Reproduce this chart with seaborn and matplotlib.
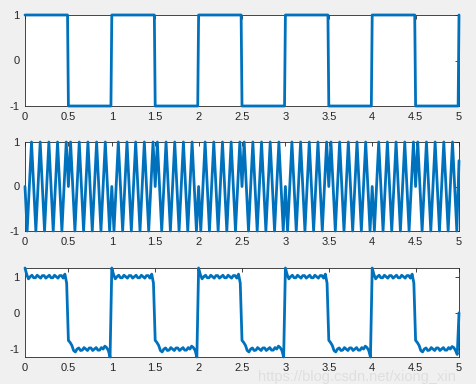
import numpy as np
import seaborn as sns
import matplotlib.pyplot as plt

# square wave (top)
sq_t = [0, 0.49, 0.5, 0.99, 1.0, 1.49, 1.5, 1.99, 2.0, 2.49, 2.5,
        2.99, 3.0, 3.49, 3.5, 3.99, 4.0, 4.49, 4.5, 4.99, 5.0]
sq_v = [1, 1, -1, -1, 1, 1, -1, -1, 1, 1, -1,
        -1, 1, 1, -1, -1, 1, 1, -1, -1, 1]

# modulated carrier (middle), one sample every 0.025 s
mod_v = [
    0, -1, 0, 1, 0, -1, 0, 1, 0, -1, 0, 1, 0, -1, 0, 1, 0, -1, 0, 1,
    0, 1, 0, -1, 0, 1, 0, -1, 0, 1, 0, -1, 0, 1, 0, -1, 0, 1, 0, -1,
    0, -1, 0, 1, 0, -1, 0, 1, 0, -1, 0, 1, 0, -1, 0, 1, 0, -1, 0, 1,
    0, 1, 0, -1, 0, 1, 0, -1, 0, 1, 0, -1, 0, 1, 0, -1, 0, 1, 0, -1,
    0, -1, 0, 1, 0, -1, 0, 1, 0, -1, 0, 1, 0, -1, 0, 1, 0, -1, 0, 1,
    0, 1, 0, -1, 0, 1, 0, -1, 0, 1, 0, -1, 0, 1, 0, -1, 0, 1, 0, -1,
    0, -1, 0, 1, 0, -1, 0, 1, 0, -1, 0, 1, 0, -1, 0, 1, 0, -1, 0, 1,
    0, 1, 0, -1, 0, 1, 0, -1, 0, 1, 0, -1, 0, 1, 0, -1, 0, 1, 0, -1,
    0, -1, 0, 1, 0, -1, 0, 1, 0, -1, 0, 1, 0, -1, 0, 1, 0, -1, 0, 1,
    0, 1, 0, -1, 0, 1, 0, -1, 0, 1, 0, -1, 0, 1, 0, -1, 0, 1, 0, -1,
    0.58,
]

# recovered signal (bottom), one sample every 0.02 s
rec_v = [
    1.24, 1.06, 0.94, 1.00, 1.04, 0.97, 0.97, 1.04, 1.00, 0.96, 1.03, 1.03, 0.96,
    1.00, 1.04, 0.97, 0.97, 1.04, 1.00, 0.96, 1.03, 1.03, 0.96, 1.07, 0.82,
    -0.76, -0.82, -0.90, -1.04, -1.08, -1.00, -0.97, -1.04, -1.03, -0.96, -1.00, -1.04, -0.97,
    -0.97, -1.04, -1.00, -0.96, -1.03, -1.03, -0.96, -1.00, -0.92, -0.96, -1.04, -1.22,
    1.24, 1.06, 0.94, 1.00, 1.04, 0.97, 0.97, 1.04, 1.00, 0.96, 1.03, 1.03, 0.96,
    1.00, 1.04, 0.97, 0.97, 1.04, 1.00, 0.96, 1.03, 1.03, 0.96, 1.07, 0.82,
    -0.76, -0.82, -0.90, -1.04, -1.08, -1.00, -0.97, -1.04, -1.03, -0.96, -1.00, -1.04, -0.97,
    -0.97, -1.04, -1.00, -0.96, -1.03, -1.03, -0.96, -1.00, -0.92, -0.96, -1.04, -1.22,
    1.24, 1.06, 0.94, 1.00, 1.04, 0.97, 0.97, 1.04, 1.00, 0.96, 1.03, 1.03, 0.96,
    1.00, 1.04, 0.97, 0.97, 1.04, 1.00, 0.96, 1.03, 1.03, 0.96, 1.07, 0.82,
    -0.76, -0.82, -0.90, -1.04, -1.08, -1.00, -0.97, -1.04, -1.03, -0.96, -1.00, -1.04, -0.97,
    -0.97, -1.04, -1.00, -0.96, -1.03, -1.03, -0.96, -1.00, -0.92, -0.96, -1.04, -1.22,
    1.24, 1.06, 0.94, 1.00, 1.04, 0.97, 0.97, 1.04, 1.00, 0.96, 1.03, 1.03, 0.96,
    1.00, 1.04, 0.97, 0.97, 1.04, 1.00, 0.96, 1.03, 1.03, 0.96, 1.07, 0.82,
    -0.76, -0.82, -0.90, -1.04, -1.08, -1.00, -0.97, -1.04, -1.03, -0.96, -1.00, -1.04, -0.97,
    -0.97, -1.04, -1.00, -0.96, -1.03, -1.03, -0.96, -1.00, -0.92, -0.96, -1.04, -1.22,
    1.24, 1.06, 0.94, 1.00, 1.04, 0.97, 0.97, 1.04, 1.00, 0.96, 1.03, 1.03, 0.96,
    1.00, 1.04, 0.97, 0.97, 1.04, 1.00, 0.96, 1.03, 1.03, 0.96, 1.07, 0.82,
    -0.76, -0.82, -0.90, -1.04, -1.08, -1.00, -0.97, -1.04, -1.03, -0.96, -1.00, -1.04, -0.97,
    -0.97, -1.04, -1.00, -0.96, -1.03, -1.03, -0.96, -1.00, -0.93, -0.96, -1.04, -1.15,
    0.0,
]

x_ticks = [0, 0.5, 1, 1.5, 2, 2.5, 3, 3.5, 4, 4.5, 5]
x_labels = ["0", "0.5", "1", "1.5", "2", "2.5", "3", "3.5", "4", "4.5", "5"]
y_ticks = [-1, 0, 1]

LINE = "#0072BD"
INK = "#262626"

sns.set_theme(style="white")
plt.rcParams['font.family'] = ['Liberation Sans', 'DejaVu Sans']

fig = plt.figure(figsize=(4.77, 3.84), dpi=100, facecolor="#F0F0F0")
W, H = 477.0, 384.0
boxes = [(15, 106), (142, 231), (268, 357)]
axes = [fig.add_axes([25 / W, 1 - b / H, 434 / W, (b - t) / H]) for t, b in boxes]

mod_t = np.arange(len(mod_v)) * 0.025
rec_t = np.arange(len(rec_v)) * 0.02

series = [(sq_t, sq_v), (mod_t, mod_v), (rec_t, rec_v)]
for ax, (tt, vv) in zip(axes, series):
    sns.lineplot(x=tt, y=vv, ax=ax, color=LINE, linewidth=2.0,
                 estimator=None, sort=False)
    for ln in ax.get_lines():
        ln.set_clip_on(False)
        ln.set_zorder(3)
    ax.set_facecolor("white")
    ax.set_xlim(0, 5)
    ax.set_xticks(x_ticks)
    ax.set_xticklabels(x_labels)
    ax.set_yticks(y_ticks)
    ax.set_yticklabels(["-1", "0", "1"])
    ax.tick_params(direction="in", length=3, width=0.6, colors=INK,
                   labelsize=8, top=True, right=True, pad=4)
    for s in ax.spines.values():
        s.set_color(INK)
        s.set_linewidth(0.6)
    ax.set_xlabel("")
    ax.set_ylabel("")

axes[0].set_ylim(-1, 1)
axes[1].set_ylim(-1, 1)
axes[2].set_ylim(min(rec_v), max(rec_v))

fig.text(0.54, 0.008, "https://blog.csdn.net/xiong_xin", fontsize=10.5,
         color="#dcdcdc", alpha=0.85, zorder=10)

fig.savefig("out.png", dpi=100, facecolor=fig.get_facecolor())
